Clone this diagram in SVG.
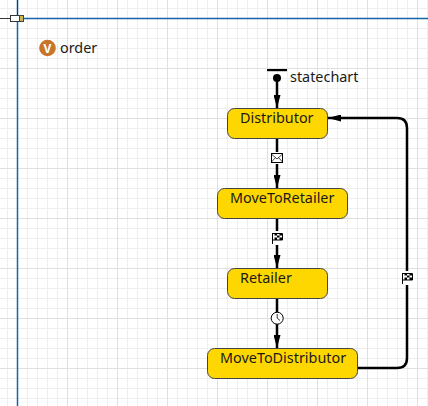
<svg xmlns="http://www.w3.org/2000/svg" width="428" height="406" viewBox="0 0 428 406">
<defs>
<pattern id="minor" x="7" y="8" width="10" height="10" patternUnits="userSpaceOnUse"><path d="M0.5 0V10M0 0.5H10" fill="none" stroke="#eeeeee" stroke-width="1"/></pattern>
<pattern id="major" x="17" y="18" width="50" height="50" patternUnits="userSpaceOnUse"><path d="M0.5 0V50M0 0.5H50" fill="none" stroke="#e0e0e0" stroke-width="1"/></pattern>
<marker id="arrow" markerUnits="userSpaceOnUse" markerWidth="13" markerHeight="7" refX="13" refY="3.500" orient="auto" viewBox="0 0 13 7"><path d="M0 0L13 3.500L0 7Z" fill="#000"/></marker>
<g id="flag"><rect x="-6.500" y="-6.500" width="13" height="14" fill="#fff"/><path d="M-5 -4H5V2.500H-5M-5 -4.500V6.500" fill="#fff" stroke="#000" stroke-width="1"/><path d="M-3 -4h2.500v2h-2.500zM2 -4h2.500v2h-2.500zM-0.500 -2h2.500v2h-2.500zM-3 0h2.500v2.500h-2.500zM2 0h2.500v2.500h-2.500z" fill="#000"/></g>
</defs>
<style>
text{font-family:"Noto Sans","Open Sans",sans-serif;font-size:14.400px;fill:#1a1a1a}
.state{fill:#ffd700;stroke:#444;stroke-width:1}
.conn{fill:none;stroke:#000;stroke-width:2.500}
</style>
<rect width="428" height="406" fill="#fff"/>
<rect width="428" height="406" fill="url(#minor)"/>
<rect width="428" height="406" fill="url(#major)"/>
<g id="axes">
<path d="M17.500 0V406M17 18.500H428" fill="none" stroke="#1565a8" stroke-width="1.500"/>
<path d="M17.500 0V15M0 18.500H10" fill="none" stroke="#333" stroke-width="1"/>
<rect x="10.500" y="15.500" width="9" height="6" fill="#fff" stroke="#333"/>
<rect x="19.500" y="15.500" width="4" height="6" fill="#c9b458" stroke="#444"/>
</g>
<g id="connectors">
<path class="conn" d="M277 80V108" marker-end="url(#arrow)"/>
<path class="conn" d="M277 138V188" marker-end="url(#arrow)"/>
<path class="conn" d="M277 218V268" marker-end="url(#arrow)"/>
<path class="conn" d="M277 298V348" marker-end="url(#arrow)"/>
<path class="conn" d="M358 368H397Q407 368 407 358V128Q407 118 397 118H328" marker-end="url(#arrow)"/>
</g>
<g id="statechart">
<rect x="267" y="69" width="20" height="2.200" fill="#000"/>
<circle cx="277" cy="78" r="4" fill="#000"/>
<text x="290" y="82">statechart</text>
</g>
<g id="order">
<circle cx="47.500" cy="48" r="8.300" fill="#c8752a"/>
<text x="47.500" y="52.500" text-anchor="middle" style="font-size:12px;font-weight:700;fill:#fff">V</text>
<text x="60" y="53">order</text>
</g>
<g id="Distributor"><rect class="state" x="227.500" y="108.500" width="100" height="30" rx="7"/><text x="240" y="123">Distributor</text></g>
<g id="MoveToRetailer"><rect class="state" x="217.500" y="188.500" width="130" height="30" rx="7"/><text x="230" y="203">MoveToRetailer</text></g>
<g id="Retailer"><rect class="state" x="227.500" y="268.500" width="100" height="30" rx="7"/><text x="240" y="283">Retailer</text></g>
<g id="MoveToDistributor"><rect class="state" x="207.500" y="348.500" width="150" height="30" rx="7"/><text x="220" y="363">MoveToDistributor</text></g>
<g id="triggers">
<g><rect x="270" y="152" width="14" height="12" fill="#fff"/><rect x="271.500" y="153.500" width="11" height="9" fill="#fff" stroke="#000"/><path d="M271.500 154L277 159L282.500 154M271.500 162L275.500 157.500M282.500 162L278.500 157.500" fill="none" stroke="#000" stroke-width="0.700"/></g>
<use href="#flag" x="277.500" y="237.500"/>
<use href="#flag" x="407.500" y="277.500"/>
<g><circle cx="277.200" cy="318.200" r="6" fill="#fff" stroke="#000"/><path d="M277.200 314V318.200L280 320.500" fill="none" stroke="#000" stroke-width="0.800"/></g>
</g>
</svg>
